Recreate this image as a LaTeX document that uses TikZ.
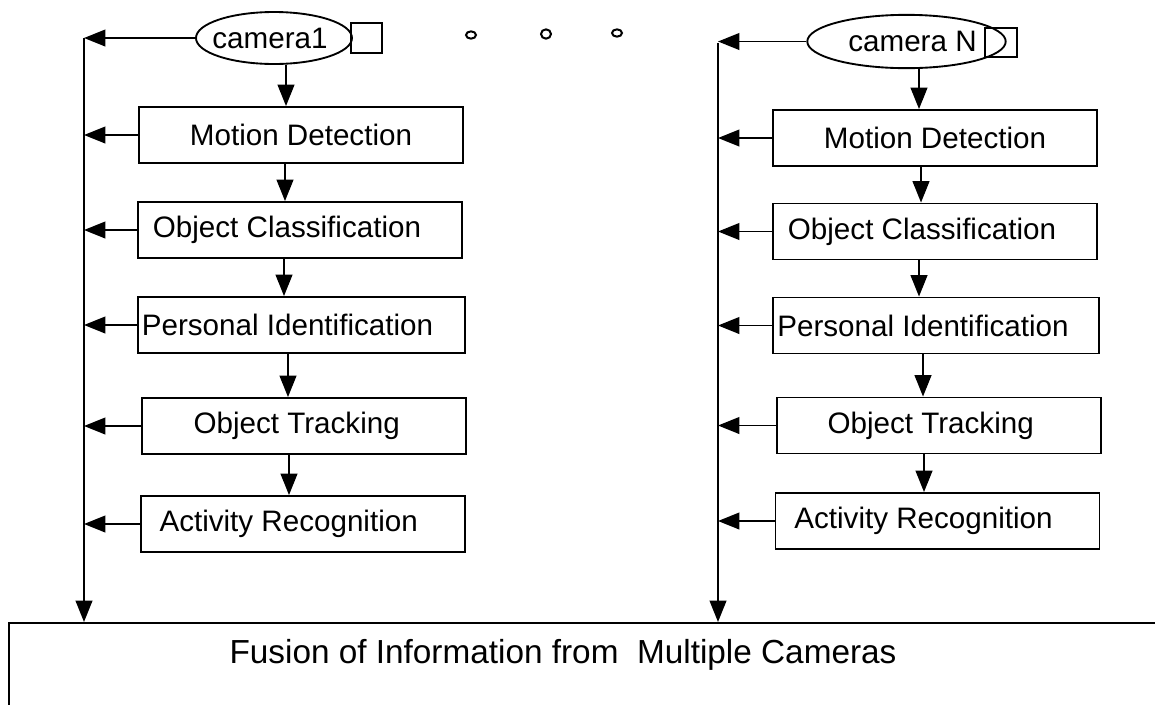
\documentclass[tikz,border=0pt]{standalone}
\usepackage{fontspec}
\setmainfont{Liberation Sans}
\usetikzlibrary{arrows.meta,shapes.geometric,calc}

\begin{document}
\begin{tikzpicture}[
  x=0.75pt, y=-0.75pt,
  line width=1.4pt,
  every node/.style={font=\fontsize{22.2pt}{26pt}\selectfont},
  arr/.style={-{Triangle[length=16pt,width=12.5pt]}},
  stage/.style={draw, rectangle, inner sep=0pt, minimum width=243pt, minimum height=42pt},
  cam/.style={draw, ellipse, inner sep=0pt, minimum width=117pt, minimum height=39pt},
  lens/.style={draw, rectangle, inner sep=0pt, minimum width=23.5pt, minimum height=22.5pt},
  dot/.style={draw, ellipse, inner sep=0pt, line width=1.5pt}
]
\useasboundingbox (0,0) rectangle (1155,704);

% ---------- first camera chain ----------
\node[cam]  (cam1) at (274,38) {\hspace*{-6pt}camera1};
\node[lens] (sq1)  at (366.5,38) {};
\node[stage] (md1) at (301,135)   {Motion Detection};
\node[stage] (oc1) at (300,230)   {\hspace*{-19.5pt}Object Classification};
\node[stage, minimum width=245pt] (pi1) at (301.5,325) {\hspace*{-21pt}Personal Identification};
\node[stage] (ot1) at (304,426)   {\hspace*{-11pt}Object Tracking};
\node[stage] (ar1) at (303,524)   {\hspace*{-21.5pt}Activity Recognition};

% ---------- N-th camera chain ----------
\node[cam, minimum width=116pt, minimum height=40pt] (camN) at (906.5,41.5) {\hspace*{9pt}camera N};
\node[lens, minimum width=24pt, minimum height=22pt] (sqN) at (1001,42.5) {};
\node[stage] (md2) at (935,138)   {Motion Detection};
\node[stage] (oc2) at (935,231.5) {\hspace*{-19.5pt}Object Classification};
\node[stage, minimum width=244.5pt] (pi2) at (936,325.5) {\hspace*{-19.5pt}Personal Identification};
\node[stage] (ot2) at (939,425.5) {\hspace*{-12.5pt}Object Tracking};
\node[stage] (ar2) at (937.5,521) {\hspace*{-21pt}Activity Recognition};

% ---------- ellipsis between the cameras ----------
\node[dot, minimum width=7.5pt, minimum height=5.5pt] (d1) at (471,35) {};
\node[dot, minimum width=7.5pt, minimum height=7pt]   (d2) at (546,34) {};
\node[dot, minimum width=7.5pt, minimum height=5.5pt] (d3) at (617,33) {};

% ---------- fusion stage (runs past the page edge) ----------
\begin{scope}
  \clip (0,0) rectangle (1155,704);
  \node[draw, rectangle, inner sep=0pt, minimum width=871.5pt, minimum height=73.5pt,
        anchor=north west] (fus) at (8,622) {};
\end{scope}
\node[font=\fontsize{25pt}{30pt}\selectfont] (fust) at (563,655)
  {Fusion of Information from\ \ Multiple Cameras};

% ---------- collecting buses ----------
\coordinate (bus1) at (84,38);
\coordinate (busN) at (718,43);
\draw[arr] (bus1) -- (bus1 |- fus.north);
\draw[arr] (busN) -- (busN |- fus.north);

% ---------- processing flow ----------
\draw[arr] (cam1.south -| 286,0) -- (md1.north -| 286,0);
\draw[arr] (md1.south -| 285,0) -- (oc1.north -| 285,0);
\draw[arr] (oc1.south -| 284,0) -- (pi1.north -| 284,0);
\draw[arr] (pi1.south -| 288,0) -- (ot1.north -| 288,0);
\draw[arr] (ot1.south -| 289,0) -- (ar1.north -| 289,0);

\draw[arr] (camN.south -| 919,0) -- (md2.north -| 919,0);
\draw[arr] (md2.south -| 921,0) -- (oc2.north -| 921,0);
\draw[arr] (oc2.south -| 919,0) -- (pi2.north -| 919,0);
\draw[arr] (pi2.south -| 923,0) -- (ot2.north -| 923,0);
\draw[arr] (ot2.south -| 924,0) -- (ar2.north -| 924,0);

% ---------- outputs onto the buses ----------
\foreach \n in {cam1,md1,oc1,pi1,ot1,ar1}
  \draw[arr] (\n.west) -- (\n.west -| bus1);
\foreach \n in {camN,md2,oc2,pi2,ot2,ar2}
  \draw[arr] (\n.west) -- (\n.west -| busN);
\end{tikzpicture}
\end{document}
